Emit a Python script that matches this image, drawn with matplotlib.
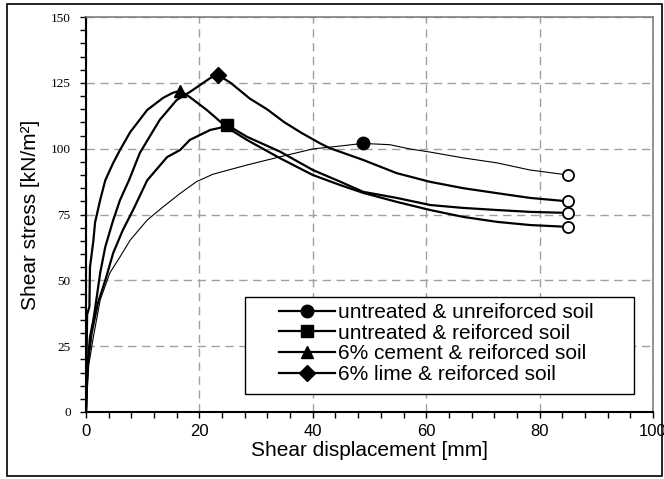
import matplotlib
matplotlib.use('Agg')
import matplotlib.pyplot as plt
from matplotlib.patches import Rectangle
from matplotlib.lines import Line2D
from matplotlib.ticker import MultipleLocator

# series (shear displacement mm, shear stress kN/m2)
x_unt = [0, 0.2, 0.5, 1.3, 2.5, 4.2, 6.0, 7.8, 10.8, 13.6, 16.6, 19.5, 22.4, 28.4, 34.2,
         40.0, 44.8, 48.8, 53.6, 57.1, 60.7, 66.5, 72.5, 78.3, 85]
y_unt = [0, 10, 18, 28.5, 42.5, 52.8, 58.9, 65.3, 72.9, 77.9, 83, 87.5, 90.3, 93.8, 96.9,
         99.9, 101, 102, 101.5, 99.9, 98.7, 96.5, 94.6, 91.9, 90]

x_rei = [0, 0.3, 1.0, 2.1, 3.4, 4.8, 6.5, 8.3, 10.8, 14.3, 16.6, 18.3, 20.1, 21.9,
         23.6, 24.9, 28.4, 34.2, 40.0, 44.8, 48.9, 54.8, 60.7, 66.5, 72.5, 78.3, 85]
y_rei = [0, 18, 30, 41.4, 50, 60.4, 69.1, 76.7, 88, 96.8, 99.5, 103.3, 105.2, 107.1,
         107.9, 109, 104.5, 98.9, 91.9, 87.5, 83.6, 81.3, 78.6, 77.5, 76.7, 76, 75.6]

x_cem = [0, 0.1, 0.2, 0.6, 0.7, 1.3, 1.6, 2.5, 3.4, 4.8, 6.0, 7.8, 10.8, 13.6, 15.3,
         16.6, 18.3, 21.3, 24.9, 28.4, 34.2, 40.0, 44.8, 48.9, 54.8, 60.7, 66.5,
         72.5, 78.3, 85]
y_cem = [0, 20, 37, 40, 55, 65, 72, 80.5, 88, 94.6, 99.5, 106.3, 114.7, 119.3, 121.2,
         122, 119.6, 114.7, 108, 103.3, 96.4, 90, 86.2, 83.2, 79.8, 76.7, 74.1,
         72.2, 71, 70.3]

x_lim = [0, 0.3, 0.7, 1.3, 1.9, 2.5, 3.4, 4.8, 6.0, 7.6, 9.5, 13.0, 16.0, 18.3, 21.9,
         23.3, 25.5, 28.9, 31.9, 35.0, 38.0, 41.3, 43.0, 48.9, 54.8, 60.7, 66.5,
         72.5, 78.3, 85]
y_lim = [0, 18, 28.5, 35, 43.7, 52.8, 62.7, 72.9, 80.5, 88.1, 98.4, 110.9, 118.5,
         121.5, 126.8, 128, 125, 119, 115, 110, 106, 102, 100.2, 95.7, 90.7, 87.4,
         85, 83.1, 81.3, 80]

labels = ['untreated & unreiforced soil', 'untreated & reiforced soil',
          '6% cement & reiforced soil', '6% lime & reiforced soil']
peak_markers = ['o', 's', '^', 'D']

fig = plt.figure(figsize=(6.64, 4.79), dpi=100)
fig.patches.append(Rectangle((7 / 664, 3 / 479), 655 / 664, 472 / 479,
                             transform=fig.transFigure, fill=False,
                             edgecolor='black', lw=1.2))
ax = fig.add_axes([86 / 664, 1 - 412 / 479, 567 / 664, 395 / 479])

series = [(x_unt, y_unt, 0.8), (x_rei, y_rei, 1.6), (x_cem, y_cem, 1.6), (x_lim, y_lim, 1.6)]
handles = []
for (xs, ys, lw), mk, lab in zip(series, peak_markers, labels):
    ax.plot(xs, ys, color='black', lw=lw, zorder=3)
    i = ys.index(max(ys))
    ms = 8 if mk == 'D' else 9
    ax.plot(xs[i], ys[i], marker=mk, color='black', ms=ms, ls='none', zorder=4)
    ax.plot(xs[-1], ys[-1], marker='o', mfc='white', mec='black', mew=1.3, ms=8,
            ls='none', zorder=4)
    handles.append(Line2D([], [], color='black', lw=1.6, marker=mk, ms=ms))

ax.set_xlim(0, 100)
ax.set_ylim(0, 150)
ax.xaxis.set_major_locator(MultipleLocator(20))
ax.xaxis.set_minor_locator(MultipleLocator(4))
ax.yaxis.set_major_locator(MultipleLocator(25))
ax.yaxis.set_minor_locator(MultipleLocator(5))
ax.tick_params(which='both', direction='out', length=4, width=1, color='black')
ax.tick_params(axis='x', labelsize=12, pad=5)
ax.tick_params(axis='y', labelsize=9.5, pad=7)
for t in ax.get_xticklabels():
    t.set_family('Liberation Sans')
for t in ax.get_yticklabels():
    t.set_family('Liberation Serif')
ax.grid(True, which='major', color='#a0a0a0', ls=(0, (6, 4)), lw=1)
for s in ['left', 'bottom']:
    ax.spines[s].set_linewidth(1.5)
for s in ['top', 'right']:
    ax.spines[s].set_color('#808080')
    ax.spines[s].set_linewidth(1.2)

ax.set_xlabel('Shear displacement [mm]', family='Liberation Sans', fontsize=15, labelpad=1)
ax.set_ylabel('Shear stress [kN/m²]', family='Liberation Sans', fontsize=15, labelpad=8)

# legend box drawn by hand so its padding can match the reference
ax.add_patch(Rectangle((0.2804, 0.0456), 0.686, 0.2456, transform=ax.transAxes,
                       facecolor='white', edgecolor='black', lw=1, zorder=5))
leg = ax.legend(handles, labels, loc='upper left', bbox_to_anchor=(0.3404, 0.276),
                prop={'family': 'Liberation Sans', 'size': 15},
                frameon=False, handlelength=2.7, handletextpad=0.15,
                labelspacing=0.08, borderpad=0, borderaxespad=0)
leg.set_zorder(6)

fig.savefig('out.png', dpi=100)
